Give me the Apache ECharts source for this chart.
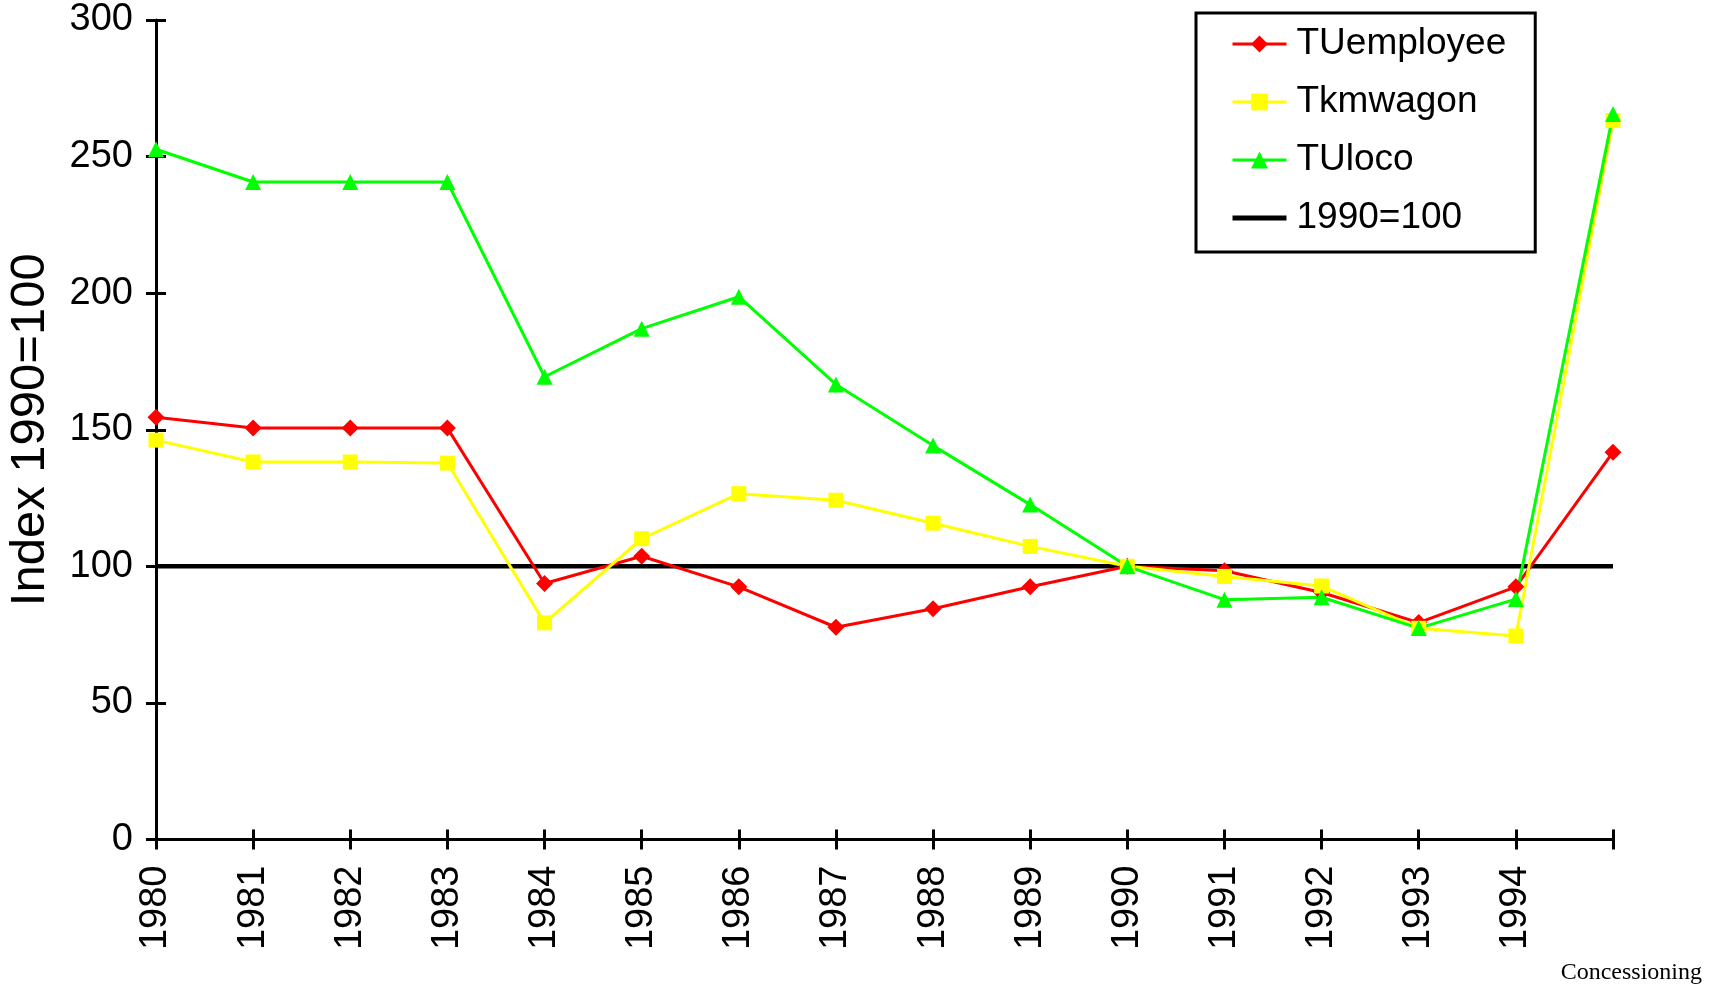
<!DOCTYPE html>
<html>
<head>
<meta charset="utf-8">
<script src="https://cdn.jsdelivr.net/npm/echarts@6/dist/echarts.min.js"></script>
<style>
html,body{margin:0;padding:0;background:#fff;}
#c{width:1716px;height:986px;}
</style>
</head>
<body>
<div id="c"></div>
<script>
const categories = ['1980','1981','1982','1983','1984','1985','1986','1987','1988','1989','1990','1991','1992','1993','1994',''];
const tuEmployee = [154.6, 150.6, 150.6, 150.6, 93.7, 103.7, 92.5, 77.7, 84.5, 92.5, 100, 98.4, 90.4, 79.4, 92.5, 141.8];
const tkmWagon   = [146.2, 138.2, 138.2, 137.8, 79.3, 110.1, 126.6, 124.2, 115.8, 107.3, 100, 96.3, 92.8, 77.3, 74.5, 263.2];
const tuLoco     = [252.7, 240.7, 240.7, 240.7, 169.4, 187.0, 198.7, 166.6, 144.2, 122.6, 100, 87.8, 88.7, 77.4, 88.0, 265.6];
const baseLine   = [100, 100, 100, 100, 100, 100, 100, 100, 100, 100, 100, 100, 100, 100, 100, 100];
const yTicks = [0, 50, 100, 150, 200, 250, 300];

const FONT = 'Liberation Sans, Arial, sans-serif';
const chart = echarts.init(document.getElementById('c'), null, {renderer: 'canvas'});

const axisBlack = {color: '#000', width: 3};

chart.setOption({
  animation: false,
  backgroundColor: '#fff',
  grid: {left: 156, right: 103, top: 20, bottom: 146.5, containLabel: false, outerBoundsMode: 'none'},
  legend: {
    orient: 'vertical',
    left: 1196,
    top: 13,
    data: [
      {name: 'TUemployee', lineStyle: {width: 3}},
      {name: 'Tkmwagon', lineStyle: {width: 3}},
      {name: 'TUloco', lineStyle: {width: 3}},
      {name: '1990=100', lineStyle: {width: 5, color: '#000'}, itemStyle: {opacity: 0}}
    ],
    borderColor: '#000',
    borderWidth: 3,
    borderRadius: 0,
    padding: [11, 29, 14, 34],
    itemGap: 18,
    itemWidth: 54,
    itemHeight: 21,
    backgroundColor: '#fff',
    textStyle: {fontSize: 37, fontFamily: FONT, color: '#000', lineHeight: 40, padding: [0, 0, 0, 5]}
  },
  xAxis: [{
    type: 'category',
    data: categories,
    boundaryGap: false,
    axisLine: {onZero: false, lineStyle: axisBlack},
    axisTick: {show: true, interval: 0, length: 10, lineStyle: axisBlack},
    axisLabel: {interval: 0, rotate: 90, margin: 26, fontSize: 38, fontFamily: FONT, color: '#000'},
    splitLine: {show: false}
  }, {
    type: 'category',
    data: categories,
    boundaryGap: false,
    position: 'bottom',
    offset: 0,
    axisLine: {show: false, onZero: false},
    axisTick: {show: true, inside: true, interval: 0, length: 10, lineStyle: axisBlack},
    axisLabel: {show: false},
    splitLine: {show: false}
  }],
  yAxis: [{
    type: 'value',
    min: yTicks[0],
    max: yTicks[yTicks.length - 1],
    interval: 50,
    name: 'Index 1990=100',
    nameLocation: 'middle',
    nameGap: 101,
    nameTextStyle: {fontSize: 49, fontFamily: FONT, color: '#000'},
    axisLine: {show: true, lineStyle: axisBlack},
    axisTick: {show: true, length: 10, lineStyle: axisBlack},
    axisLabel: {margin: 23, fontSize: 38, fontFamily: FONT, color: '#000'},
    splitLine: {show: false}
  }, {
    type: 'value',
    position: 'left',
    offset: 0,
    min: yTicks[0],
    max: yTicks[yTicks.length - 1],
    interval: 50,
    axisLine: {show: false},
    axisTick: {show: true, inside: true, length: 10, lineStyle: axisBlack},
    axisLabel: {show: false},
    splitLine: {show: false}
  }],
  series: [{
    name: '1990=100',
    type: 'line',
    data: baseLine,
    z: 1,
    symbol: 'none',
    lineStyle: {color: '#000', width: 4.5},
    itemStyle: {color: '#000'}
  }, {
    name: 'TUemployee',
    type: 'line',
    data: tuEmployee,
    symbol: 'diamond',
    symbolSize: 17,
    lineStyle: {color: '#ff0000', width: 3},
    itemStyle: {color: '#ff0000'}
  }, {
    name: 'Tkmwagon',
    type: 'line',
    data: tkmWagon,
    symbol: 'rect',
    symbolSize: 15,
    lineStyle: {color: '#ffff00', width: 3},
    itemStyle: {color: '#ffff00'}
  }, {
    name: 'TUloco',
    type: 'line',
    data: tuLoco,
    symbol: 'triangle',
    symbolSize: 16,
    lineStyle: {color: '#00ff00', width: 3},
    itemStyle: {color: '#00ff00'}
  }],
  graphic: [{
    type: 'text',
    right: 14,
    top: 961,
    style: {text: 'Concessioning', font: '24px "Liberation Serif", "Times New Roman", serif', fill: '#000'}
  }]
});
</script>
</body>
</html>
